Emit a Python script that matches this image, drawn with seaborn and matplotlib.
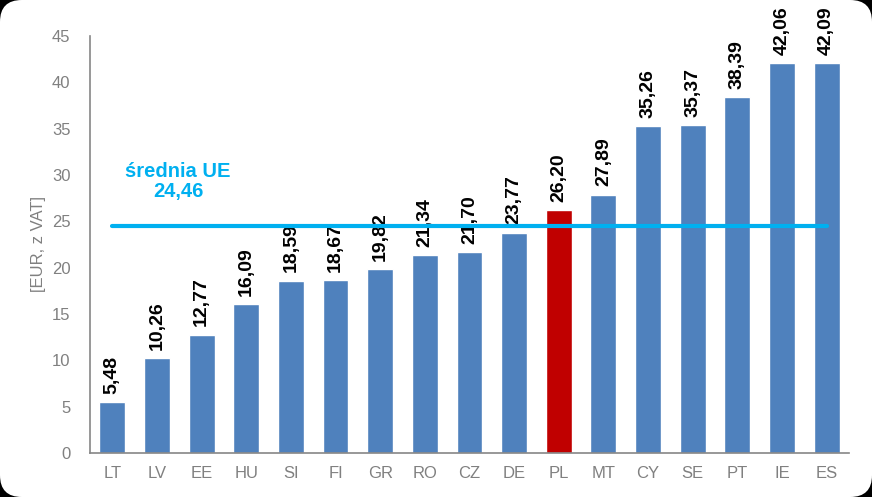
import numpy as np
import pandas as pd
import matplotlib.pyplot as plt
import seaborn as sns
from matplotlib.patches import FancyBboxPatch

countries = ['LT', 'LV', 'EE', 'HU', 'SI', 'FI', 'GR', 'RO', 'CZ', 'DE', 'PL',
             'MT', 'CY', 'SE', 'PT', 'IE', 'ES']
prices = [5.48, 10.26, 12.77, 16.09, 18.59, 18.67, 19.82, 21.34, 21.70, 23.77,
          26.20, 27.89, 35.26, 35.37, 38.39, 42.06, 42.09]
eu_mean = 24.46
highlight = 'PL'

df = pd.DataFrame({'country': countries, 'price': prices})
palette = {c: ('#C00000' if c == highlight else '#4F81BD') for c in countries}

sns.set_style('white')
plt.rcParams['font.family'] = ['Liberation Sans', 'DejaVu Sans']

fig = plt.figure(figsize=(8.72, 4.97), dpi=100, facecolor='black')
# white rounded panel behind everything
fig.patches.append(FancyBboxPatch((0.0, 0.0), 1.0, 1.0, boxstyle='round,pad=0,rounding_size=0.025',
                                  transform=fig.transFigure, facecolor='white',
                                  edgecolor='none', mutation_aspect=872 / 497, zorder=-10))
ax = fig.add_axes([0.1032, 0.0885, 0.8704, 0.8391])
ax.set_facecolor('white')

sns.barplot(data=df, x='country', y='price', hue='country', palette=palette,
            legend=False, width=0.58, saturation=1, ax=ax)

# value labels
for i, v in enumerate(prices):
    ax.annotate(f'{v:.2f}'.replace('.', ','), xy=(i, v), xytext=(0, 6),
                textcoords='offset points', rotation=90, ha='center', va='bottom',
                fontsize=14, fontweight='bold', color='black', zorder=3,
                annotation_clip=False)

# EU mean line (drawn over the labels)
ax.plot([0, len(countries) - 1], [eu_mean, eu_mean], color='#00B0F0', lw=3, zorder=5)
ax.text(1.47, 29.3, 'średnia UE\n' + f'{eu_mean:.2f}'.replace('.', ','),
        ha='center', va='center', fontsize=14.5, fontweight='bold', color='#00B0F0',
        linespacing=1.1)

ax.set_ylim(0, 45)
ax.set_xlim(-0.5, len(countries) - 0.5)
ax.set_yticks(np.arange(0, 46, 5))
ax.set_xlabel('')
ax.set_ylabel('[EUR, z VAT]', fontsize=12, color='#808080', labelpad=4)
ax.tick_params(axis='both', length=0, labelsize=12, labelcolor='#808080')
ax.tick_params(axis='y', pad=14)
ax.tick_params(axis='x', pad=9)
for s in ['top', 'right']:
    ax.spines[s].set_visible(False)
for s in ['left', 'bottom']:
    ax.spines[s].set_color('#868686')
    ax.spines[s].set_linewidth(1.2)

fig.savefig('out.png', dpi=100, facecolor='black')
